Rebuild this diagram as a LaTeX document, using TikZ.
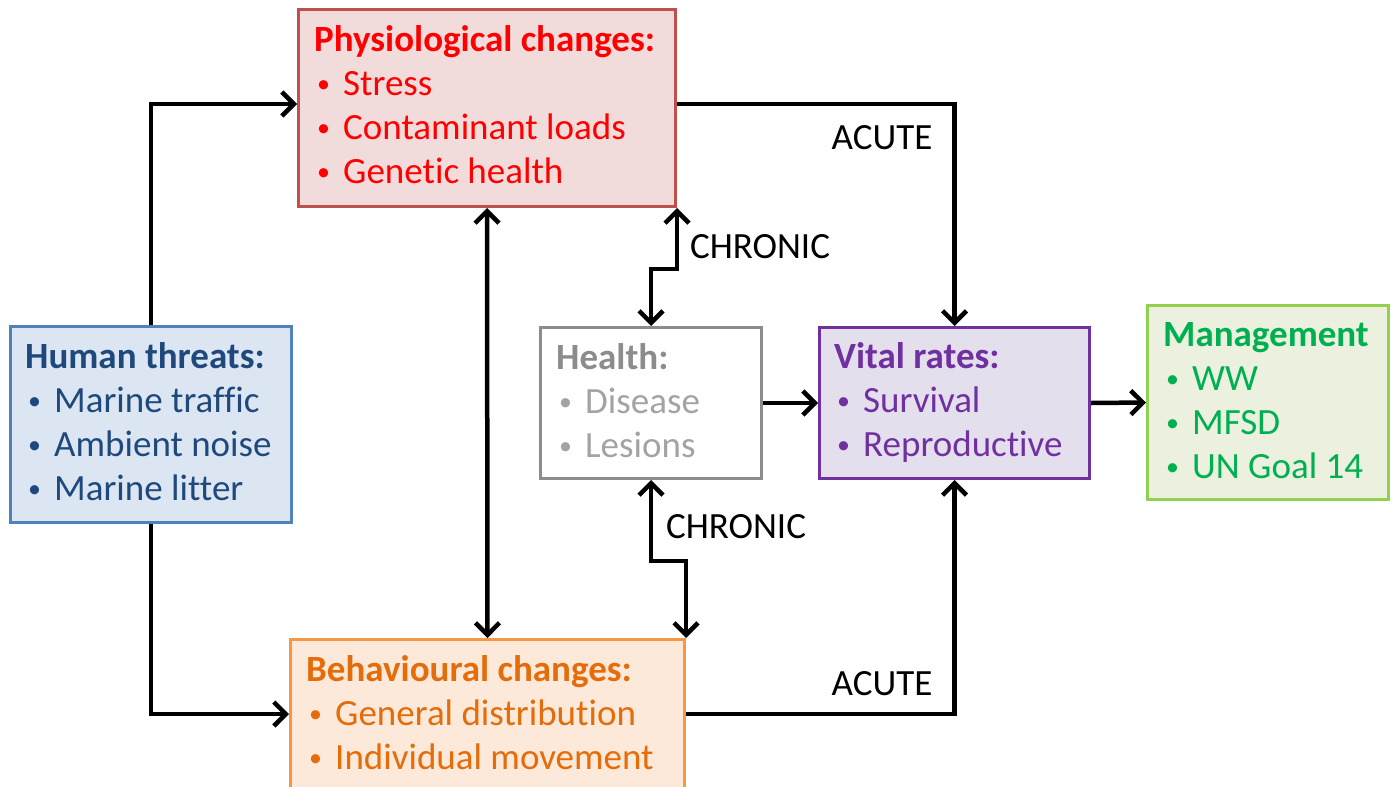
\documentclass[tikz,border=0pt]{standalone}
\usepackage{fontspec}
\usepackage{graphicx}
\setmainfont[Ligatures=NoCommon]{Carlito}
\usetikzlibrary{arrows.meta,calc}
\definecolor{physfill}{HTML}{F2DCDB}\definecolor{physline}{HTML}{C0504D}\definecolor{phystext}{HTML}{FF0000}
\definecolor{thrfill}{HTML}{DCE6F2}\definecolor{thrline}{HTML}{4F81BD}\definecolor{thrtext}{HTML}{1F497D}
\definecolor{hline}{HTML}{8C8C8C}\definecolor{htitle}{HTML}{8C8C8C}\definecolor{htext}{HTML}{A3A3A3}
\definecolor{vitfill}{HTML}{E4DFEC}\definecolor{vitline}{HTML}{7030A0}
\definecolor{mgfill}{HTML}{EBF1DE}\definecolor{mgline}{HTML}{92D050}\definecolor{mgtext}{HTML}{00B050}
\definecolor{befill}{HTML}{FDE9D9}\definecolor{beline}{HTML}{F79646}\definecolor{betext}{HTML}{E46C0A}
\newcommand{\itm}[1]{\makebox[29pt][l]{\hspace{3pt}\raisebox{2.5pt}{\scalebox{0.7}{•}}}#1}
\tikzset{
  boxa/.style={draw, line width=3pt, inner sep=0pt, anchor=north west},
  txt/.style={anchor=base west, inner sep=0pt, font=\fontsize{37}{44}\selectfont},
  lbl/.style={inner sep=0pt, font=\fontsize{37}{44}\selectfont},
  arr/.style={line width=4.5pt, -{Straight Barb[length=12pt,width=24pt]}},
  barr/.style={line width=4.5pt, {Straight Barb[length=12pt,width=24pt]}-{Straight Barb[length=12pt,width=24pt]}}
}
\begin{document}
\begin{tikzpicture}[x=1pt,y=-1pt]
\useasboundingbox (0,0) rectangle (1395,787);
\clip (0,0) rectangle (1395,787);
\fill[white] (0,0) rectangle (1395,787);
% boxes
\node[boxa, draw=physline, fill=physfill, minimum width=377pt, minimum height=197pt] (phys) at (297,8) {};
\node[boxa, draw=thrline, fill=thrfill, minimum width=281pt, minimum height=196pt] (threat) at (9,325) {};
\node[boxa, draw=hline, fill=white, minimum width=221pt, minimum height=151pt] (health) at (539,326) {};
\node[boxa, draw=vitline, fill=vitfill, minimum width=270pt, minimum height=151pt] (vital) at (818,326) {};
\node[boxa, draw=mgline, fill=mgfill, minimum width=241pt, minimum height=194pt] (mgmt) at (1146,304) {};
\node[boxa, draw=beline, fill=befill, minimum width=394pt, minimum height=170pt] (beh) at (289,638) {};
% texts
\node[txt, text=phystext] (phystx) at (314,51) {\begin{tabular}[t]{@{}l@{}}\textbf{Physiological changes:}\\\itm{Stress}\\\itm{Contaminant loads}\\\itm{Genetic health}\end{tabular}};
\node[txt, text=thrtext] (thrtx) at (25,368) {\begin{tabular}[t]{@{}l@{}}\textbf{Human threats:}\\\itm{Marine traffic}\\\itm{Ambient noise}\\\itm{Marine litter}\end{tabular}};
\node[txt, text=htext] (htx) at (556,369) {\begin{tabular}[t]{@{}l@{}}\textcolor{htitle}{\textbf{Health:}}\\\itm{Disease}\\\itm{Lesions}\end{tabular}};
\node[txt, text=vitline] (vtx) at (834,368) {\begin{tabular}[t]{@{}l@{}}\textbf{Vital rates:}\\\itm{Survival}\\\itm{Reproductive}\end{tabular}};
\node[txt, text=mgtext] (mtx) at (1163,346) {\begin{tabular}[t]{@{}l@{}}\textbf{Management}\\\itm{WW}\\\itm{MFSD}\\\itm{UN Goal 14}\end{tabular}};
\node[txt, text=betext] (btx) at (306,681) {\begin{tabular}[t]{@{}l@{}}\textbf{Behavioural changes:}\\\itm{General distribution}\\\itm{Individual movement}\end{tabular}};
% connectors
\draw[arr] (threat.north) |- ($(phys.north west)+(0,96)$);
\draw[arr] (threat.south) |- ($(beh.north west)+(0,76)$);
\draw[arr] ($(phys.north east)+(0,96)$) -| (vital.north);
\draw[arr] ($(beh.north east)+(0,76)$) -| (vital.south);
\draw[barr] (phys.south) -- (beh.north);
\draw[barr] (phys.south east) -- ++(0,61) -| (health.north);
\draw[barr] (health.south) -- ++(0,81) -| (beh.north east);
\draw[arr] (health.east) -- (vital.west);
\draw[arr] (vital.east) -- (mgmt.west);
% labels
\node[lbl] (acute1) at (882,138) {ACUTE};
\node[lbl] (acute2) at (882,684) {ACUTE};
\node[lbl] (chron1) at (760,247) {CHRONIC};
\node[lbl] (chron2) at (736,527) {CHRONIC};
\end{tikzpicture}
\end{document}
